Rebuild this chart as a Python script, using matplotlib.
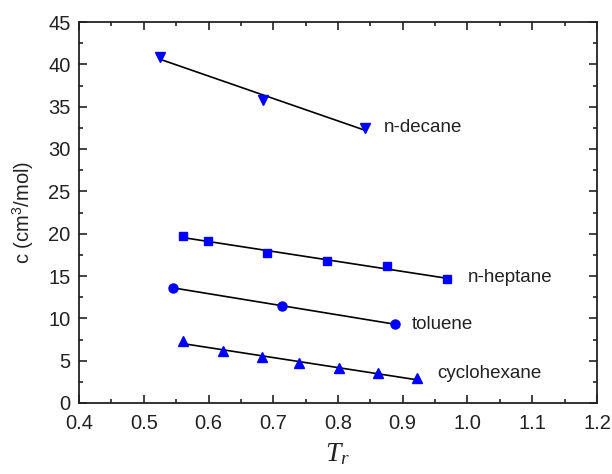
import numpy as np
from matplotlib import pyplot as plt

plt.rcParams['font.family'] = ['Liberation Sans', 'DejaVu Sans']
plt.rcParams['mathtext.fontset'] = 'custom'
plt.rcParams['mathtext.rm'] = 'Liberation Sans'
plt.rcParams['mathtext.it'] = 'Liberation Serif:italic'

# reduced temperature / c values
decane_x = [0.525, 0.684, 0.842]
decane_y = [40.9, 35.8, 32.5]

heptane_x = [0.561, 0.599, 0.690, 0.783, 0.876, 0.968]
heptane_y = [19.7, 19.1, 17.7, 16.8, 16.2, 14.6]

toluene_x = [0.545, 0.713, 0.888]
toluene_y = [13.6, 11.5, 9.3]

cyclo_x = [0.561, 0.622, 0.683, 0.740, 0.802, 0.862, 0.922]
cyclo_y = [7.3, 6.2, 5.4, 4.7, 4.1, 3.5, 2.9]

series = [
    (decane_x, decane_y, 'v', 7, 'n-decane', (0.871, 32.5)),
    (heptane_x, heptane_y, 's', 6, 'n-heptane', (1.0, 14.8)),
    (toluene_x, toluene_y, 'o', 6.5, 'toluene', (0.914, 9.3)),
    (cyclo_x, cyclo_y, '^', 7, 'cyclohexane', (0.954, 3.5)),
]

fig = plt.figure(figsize=(6.12, 4.74), dpi=100)
ax = fig.add_axes([79/612, 1 - 403/474, (597-79)/612, (403-22)/474])

for xs, ys, mk, ms, name, pos in series:
    xs = np.array(xs)
    k, b = np.polyfit(xs, ys, 1)
    ax.plot([xs.min(), xs.max()], [k*xs.min() + b, k*xs.max() + b], color='black', lw=1.2, zorder=2)
    ax.plot(xs, ys, linestyle='none', marker=mk, markersize=ms, color='#0000ff', zorder=3)
    ax.text(pos[0], pos[1], name, fontsize=13.5, va='center', ha='left', color='#222222')

ax.set_xlim(0.4, 1.2)
ax.set_ylim(0, 45)
ax.set_xticks(np.arange(0.4, 1.21, 0.1))
ax.set_xticks(np.arange(0.45, 1.2, 0.1), minor=True)
ax.set_yticks(np.arange(0, 46, 5))
ax.set_yticks(np.arange(2.5, 45, 5), minor=True)
ax.set_xticklabels(['%.1f' % v for v in np.arange(0.4, 1.21, 0.1)])
ax.tick_params(which='both', direction='in', top=True, right=True, labelsize=14.5, width=1.2, colors='#222222')
ax.tick_params(axis='x', which='major', pad=8)
ax.tick_params(axis='y', which='major', pad=6)
ax.tick_params(which='major', length=5.5)
ax.tick_params(which='minor', length=3)
for sp in ax.spines.values():
    sp.set_linewidth(1.3)
    sp.set_color('#222222')

ax.set_ylabel(r'c (cm$^3$/mol)', fontsize=14.5, labelpad=9, color='#222222')
ax.set_xlabel(r'$T_r$', fontsize=20, labelpad=6, color='#222222')

plt.savefig('out.png', dpi=100)
